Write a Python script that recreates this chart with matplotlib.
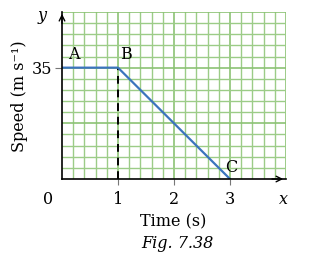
import numpy as np
import matplotlib.pyplot as plt

# data
time_s = [0, 1, 3]
speed = [35, 35, 0]
point_labels = ['A', 'B', 'C']
xticks = [1, 2, 3]
xtick_labels = ['1', '2', '3']

plt.rcParams['font.family'] = ['DejaVu Serif']
FS = 11.5

fig = plt.figure(figsize=(3.13, 2.65), dpi=100)
ax = fig.add_axes([62 / 313, 86 / 265, 224 / 313, 167 / 265])
ax.set_xlim(0, 4)
ax.set_ylim(0, 52.5)

# graph paper grid
for xv in np.arange(0.2, 4.01, 0.2):
    major = abs(xv - round(xv)) < 1e-6
    ax.axvline(xv, color='#8cc274' if major else '#9ccc87', lw=1.2 if major else 1.0, zorder=0, snap=True)
for yv in np.arange(3.5, 52.51, 3.5):
    major = abs(yv / 17.5 - round(yv / 17.5)) < 1e-6
    ax.axhline(yv, color='#8cc274' if major else '#9ccc87', lw=1.2 if major else 1.0, zorder=0, snap=True)

ax.plot(time_s, speed, color='#3b74bd', lw=1.6, zorder=3)
ax.plot([1, 1], [0, 35], color='black', lw=1.4, ls=(0, (4, 3)), zorder=2)

ax.text(0.1, 36.5, point_labels[0], fontsize=FS, ha='left', va='bottom')
ax.text(1.03, 36.5, point_labels[1], fontsize=FS, ha='left', va='bottom')
ax.text(3.03, 0.8, point_labels[2], fontsize=FS, ha='center', va='bottom')

for s in ['top', 'right']:
    ax.spines[s].set_visible(False)
for s in ['left', 'bottom']:
    ax.spines[s].set_color('black')
    ax.spines[s].set_linewidth(1.2)
    ax.spines[s].set_zorder(4)

ax.set_xticks(xticks)
ax.set_xticklabels(xtick_labels, fontsize=FS)
ax.set_yticks([35])
ax.set_yticklabels(['35'], fontsize=FS)
ax.tick_params(axis='x', length=4, color='#777777', pad=5)
ax.tick_params(axis='y', length=5, color='#777777', pad=2)

# arrows
ax.annotate('', xy=(4.0, 0), xytext=(3.7, 0), xycoords='data',
            arrowprops=dict(arrowstyle='->', color='black', lw=1.0), annotation_clip=False)
ax.annotate('', xy=(0, 52.8), xytext=(0, 48), xycoords='data',
            arrowprops=dict(arrowstyle='->', color='black', lw=1.0), annotation_clip=False)

fig.text(48 / 313, 1 - 200 / 265, '0', fontsize=FS, ha='center', va='center')
fig.text(283 / 313, 1 - 199 / 265, 'x', fontsize=FS, style='italic', ha='center', va='center')
fig.text(42 / 313, 1 - 16 / 265, 'y', fontsize=FS, style='italic', ha='center', va='center')

fig.text(20 / 313, 1 - 96 / 265, 'Speed (m s\u207b\u00b9)', fontsize=FS, rotation=90, ha='center', va='center')
fig.text(173 / 313, 1 - 222 / 265, 'Time (s)', fontsize=FS, ha='center', va='center')
fig.text(177 / 313, 1 - 243 / 265, 'Fig. 7.38', fontsize=FS, style='italic', ha='center', va='center')

fig.savefig('out.png', dpi=100)
